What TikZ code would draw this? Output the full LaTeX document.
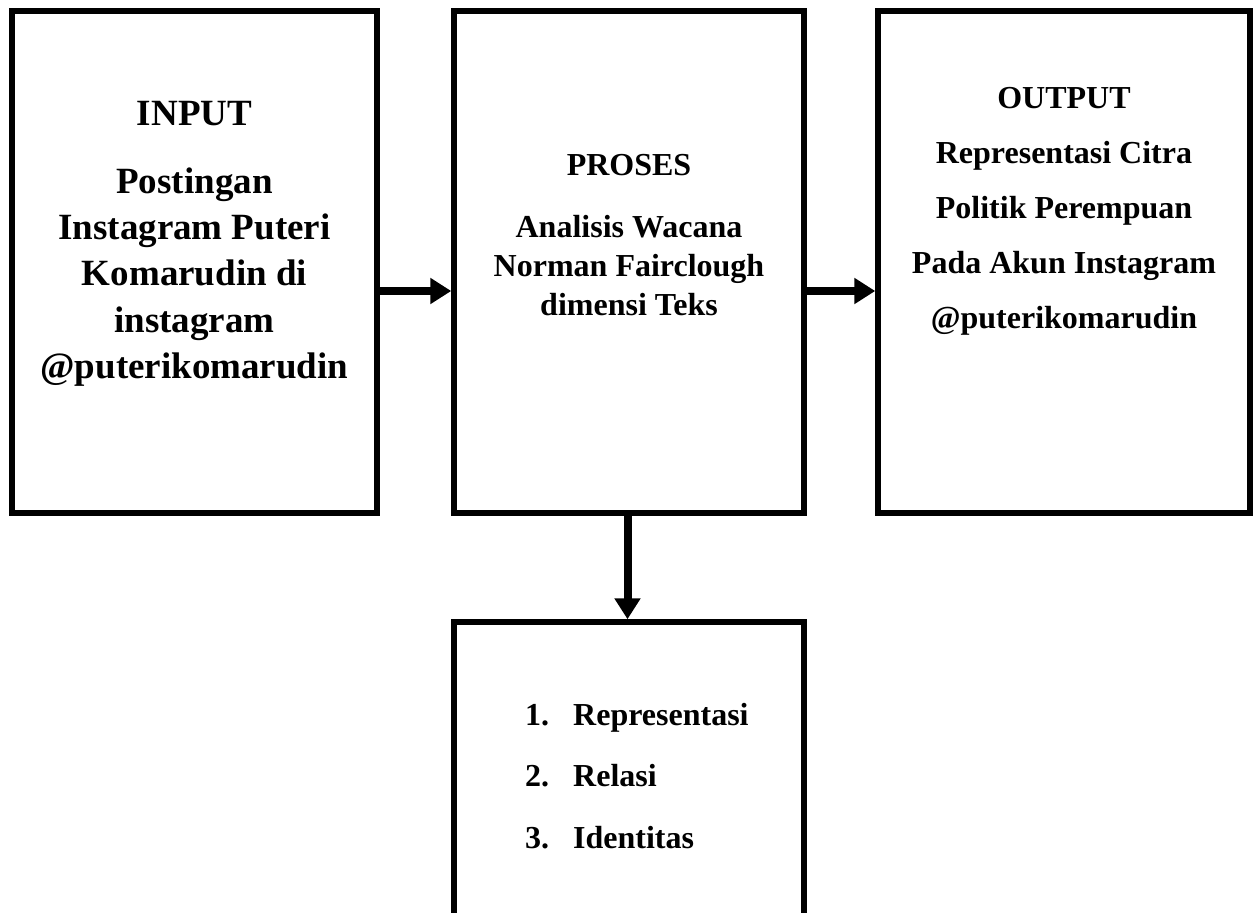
\documentclass[tikz,border=0pt]{standalone}
\usepackage{fontspec}
\setmainfont{Liberation Serif}
\usetikzlibrary{arrows.meta}
\begin{document}
\begin{tikzpicture}[x=1pt,y=-1pt,
  box/.style={draw=black, line width=5.5pt, inner sep=0pt},
  big/.style={font=\fontsize{37}{46.4}\selectfont\bfseries, inner sep=0pt, anchor=base},
  mid/.style={font=\fontsize{32}{39}\selectfont\bfseries, inner sep=0pt, anchor=base},
  outtxt/.style={font=\fontsize{32}{55}\selectfont\bfseries, inner sep=0pt, anchor=base},
  listtxt/.style={font=\fontsize{32}{61.5}\selectfont\bfseries, inner sep=0pt, anchor=base west},
  flow/.style={line width=8pt, -{Triangle[length=21pt,width=25pt]}}]
\useasboundingbox (0,0) rectangle (1259,913);
\fill[white] (0,0) rectangle (1259,913);
% boxes
\node[box, minimum width=365pt, minimum height=502pt] (inp) at (194.5,262) {};
\node[box, minimum width=350pt, minimum height=502pt] (pro) at (629,262) {};
\node[box, minimum width=372pt, minimum height=502pt] (out) at (1064,262) {};
\node[box, minimum width=350pt, minimum height=310pt] (bot) at (629,777) {};
% texts
\node[big] (inpH) at (194.5,125) {INPUT};
\node[big] (inpB) at (194.5,193) {\begin{tabular}[t]{@{}c@{}}Postingan\\Instagram Puteri\\Komarudin di\\instagram\\@puterikomarudin\end{tabular}};
\node[mid] (proH) at (629,175) {PROSES};
\node[mid] (proB) at (629,237) {\begin{tabular}[t]{@{}c@{}}Analisis Wacana\\Norman Fairclough\\dimensi Teks\end{tabular}};
\node[outtxt] (outB) at (1064,108) {\begin{tabular}[t]{@{}c@{}}OUTPUT\\Representasi Citra\\Politik Perempuan\\Pada Akun Instagram\\@puterikomarudin\end{tabular}};
\node[listtxt] (botL) at (525,725) {\begin{tabular}[t]{@{}l@{}}\makebox[48pt][l]{1.}Representasi\\\makebox[48pt][l]{2.}Relasi\\\makebox[48pt][l]{3.}Identitas\end{tabular}};
% connectors
\coordinate (ay) at (0,291);
\draw[flow] (inp.east |- ay) -- (pro.west |- ay);
\draw[flow] (pro.east |- ay) -- (out.west |- ay);
\draw[flow] ([xshift=-1.5pt]pro.south) -- ([xshift=-1.5pt]bot.north);
\end{tikzpicture}
\end{document}
